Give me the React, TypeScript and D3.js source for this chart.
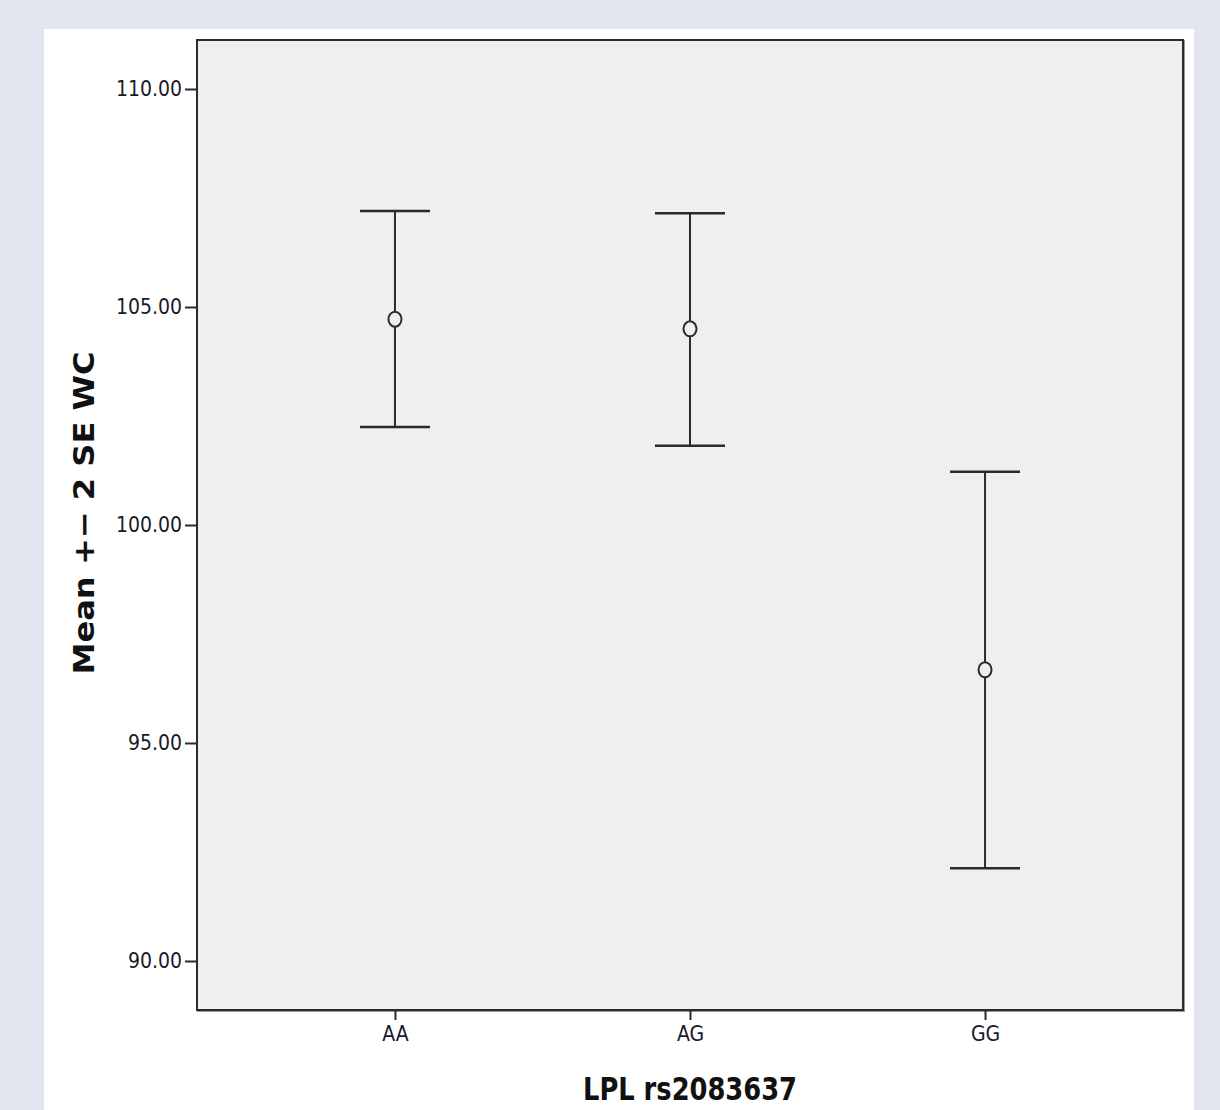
import * as d3 from 'd3';
import React, { useEffect, useRef } from 'react';

const genotypes = ['AA', 'AG', 'GG'];
const means = [104.72, 104.5, 96.68];
const upper = [107.2, 107.15, 101.22];
const lower = [102.25, 101.82, 92.13];
const yTicks = [90, 95, 100, 105, 110];

function App() {
    const ref = useRef<SVGSVGElement>(null);

    useEffect(() => {
        const svg = d3.select(ref.current);
        svg.selectAll('*').remove();

        const W = 1220, H = 1110;
        const plot = { left: 197, top: 40, right: 1183, bottom: 1010 };
        const tickFont = '"DejaVu Sans Condensed", "DejaVu Sans", sans-serif';
        const ink = '#2b2b2b';

        svg.append('rect').attr('width', W).attr('height', H).attr('fill', '#e1e5ee');
        svg.append('rect').attr('x', 44).attr('y', 29).attr('width', 1150).attr('height', H - 29).attr('fill', '#ffffff');

        const data = genotypes.map((g, i) => ({ g, mean: means[i], hi: upper[i], lo: lower[i] }));

        const x = d3.scalePoint<string>()
            .domain(genotypes)
            .range([plot.left, plot.right])
            .padding(0.671);

        const y = d3.scaleLinear()
            .domain([88.876, 111.124])
            .range([plot.bottom, plot.top]);

        // plot area, frame with a soft shadow
        svg.append('rect')
            .attr('x', plot.left + 1).attr('y', plot.top + 1)
            .attr('width', plot.right - plot.left).attr('height', plot.bottom - plot.top)
            .attr('fill', 'none').attr('stroke', '#9a9a9a').attr('stroke-width', 2);
        svg.append('rect')
            .attr('x', plot.left).attr('y', plot.top)
            .attr('width', plot.right - plot.left).attr('height', plot.bottom - plot.top)
            .attr('fill', '#efefef').attr('stroke', ink).attr('stroke-width', 2);

        const yAxis = svg.append('g')
            .attr('transform', `translate(${plot.left},0)`)
            .call(d3.axisLeft(y).tickValues(yTicks).tickFormat(d3.format('.2f')).tickSize(12).tickPadding(3));
        yAxis.select('.domain').remove();
        yAxis.selectAll('line').attr('stroke', ink).attr('stroke-width', 2);
        yAxis.selectAll('text')
            .attr('font-family', tickFont).attr('font-size', 21).attr('fill', '#1a1a2a');

        const xAxis = svg.append('g')
            .attr('transform', `translate(0,${plot.bottom})`)
            .call(d3.axisBottom(x).tickSize(10).tickPadding(6));
        xAxis.select('.domain').remove();
        xAxis.selectAll('line').attr('stroke', ink).attr('stroke-width', 2);
        xAxis.selectAll('text')
            .attr('font-family', tickFont).attr('font-size', 21).attr('fill', '#1a1a2a');

        // error bars
        const cap = 35;
        const bars = svg.append('g');
        bars.selectAll('.stem')
            .data(data)
            .enter().append('line')
            .attr('x1', d => x(d.g)!).attr('x2', d => x(d.g)!)
            .attr('y1', d => y(d.hi)).attr('y2', d => y(d.lo))
            .attr('stroke', ink).attr('stroke-width', 2);
        bars.selectAll('.capHi')
            .data(data)
            .enter().append('line')
            .attr('x1', d => x(d.g)! - cap).attr('x2', d => x(d.g)! + cap)
            .attr('y1', d => y(d.hi)).attr('y2', d => y(d.hi))
            .attr('stroke', ink).attr('stroke-width', 2.5);
        bars.selectAll('.capLo')
            .data(data)
            .enter().append('line')
            .attr('x1', d => x(d.g)! - cap).attr('x2', d => x(d.g)! + cap)
            .attr('y1', d => y(d.lo)).attr('y2', d => y(d.lo))
            .attr('stroke', ink).attr('stroke-width', 2.5);
        bars.selectAll('.mean')
            .data(data)
            .enter().append('ellipse')
            .attr('cx', d => x(d.g)!).attr('cy', d => y(d.mean))
            .attr('rx', 6.5).attr('ry', 7.5)
            .attr('fill', '#efefef').attr('stroke', ink).attr('stroke-width', 2);

        // axis titles
        svg.append('text')
            .attr('x', 690).attr('y', 1100)
            .attr('text-anchor', 'middle')
            .attr('font-family', tickFont).attr('font-weight', 'bold').attr('font-size', 32)
            .attr('textLength', 214).attr('lengthAdjust', 'spacingAndGlyphs')
            .attr('fill', '#111')
            .text('LPL rs2083637');

        svg.append('text')
            .attr('transform', 'translate(94,513) rotate(-90)')
            .attr('text-anchor', 'middle')
            .attr('font-family', tickFont).attr('font-weight', 'bold').attr('font-size', 29)
            .attr('textLength', 323).attr('lengthAdjust', 'spacingAndGlyphs')
            .attr('fill', '#111')
            .text('Mean +\u2212 2 SE WC');
    }, []);

    return <svg ref={ref} width={1220} height={1110} style={{ position: 'absolute', left: 0, top: 0 }}></svg>;
}

export default App;
